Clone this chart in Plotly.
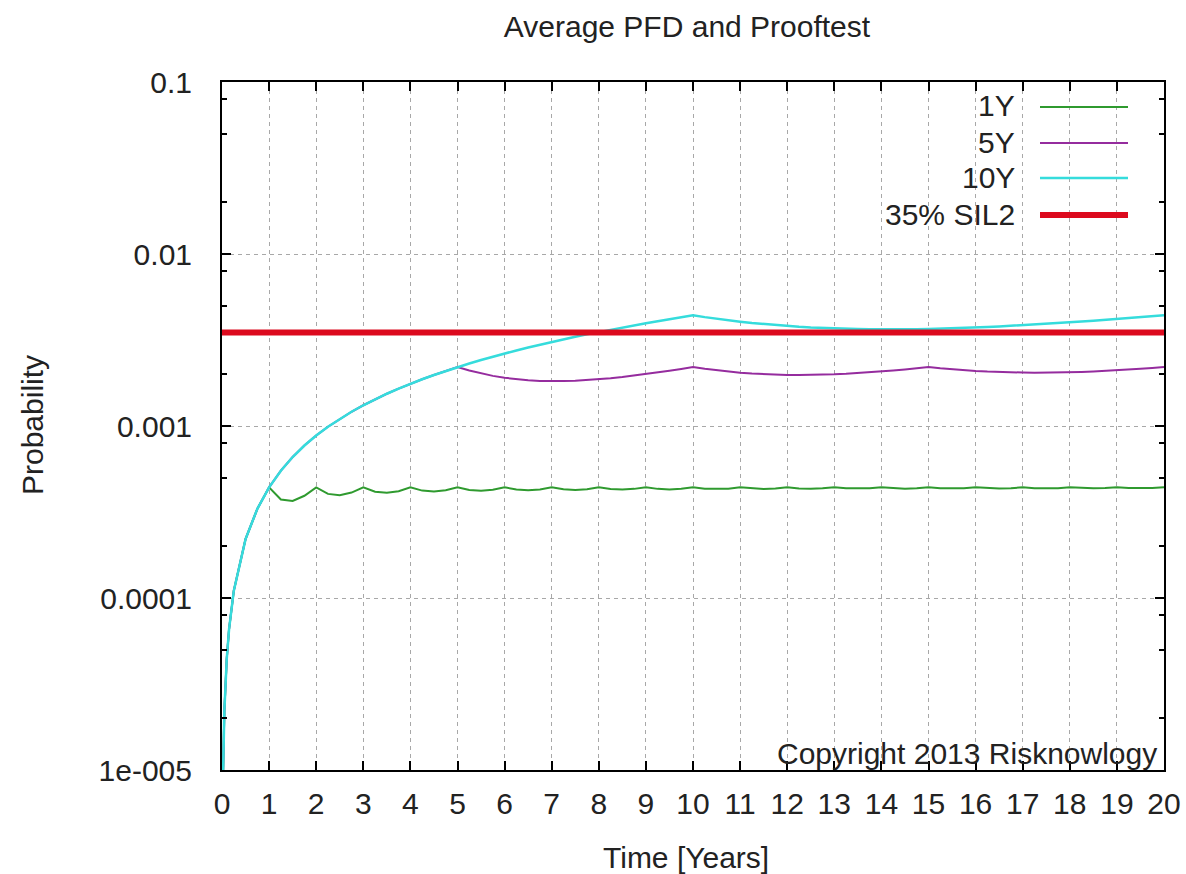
import plotly.graph_objects as go

# Time points [years]
time_years = [0.02, 0.05, 0.1, 0.15, 0.25, 0.5, 0.75, 1.0,
              1.25, 1.5, 1.75, 2.0, 2.25, 2.5, 2.75, 3.0, 3.25, 3.5, 3.75, 4.0,
              4.25, 4.5, 4.75, 5.0, 5.25, 5.5, 5.75, 6.0, 6.25, 6.5, 6.75, 7.0,
              7.25, 7.5, 7.75, 8.0, 8.25, 8.5, 8.75, 9.0, 9.25, 9.5, 9.75, 10.0,
              10.25, 10.5, 10.75, 11.0, 11.25, 11.5, 11.75, 12.0, 12.25, 12.5, 12.75, 13.0,
              13.25, 13.5, 13.75, 14.0, 14.25, 14.5, 14.75, 15.0, 15.25, 15.5, 15.75, 16.0,
              16.25, 16.5, 16.75, 17.0, 17.25, 17.5, 17.75, 18.0, 18.25, 18.5, 18.75, 19.0,
              19.25, 19.5, 19.75, 20.0]

pfd_1y = [8.8e-6, 2.2e-5, 4.4e-5, 6.6e-5, 1.1e-4, 2.2e-4, 3.3e-4, 4.40e-4,
          3.74e-4, 3.67e-4, 3.93e-4, 4.40e-4, 4.03e-4, 3.96e-4, 4.10e-4, 4.40e-4,
          4.15e-4, 4.09e-4, 4.18e-4, 4.40e-4, 4.21e-4, 4.16e-4, 4.23e-4, 4.40e-4,
          4.24e-4, 4.20e-4, 4.26e-4, 4.40e-4, 4.27e-4, 4.23e-4, 4.28e-4, 4.40e-4,
          4.29e-4, 4.25e-4, 4.29e-4, 4.40e-4, 4.30e-4, 4.27e-4, 4.31e-4, 4.40e-4,
          4.31e-4, 4.28e-4, 4.32e-4, 4.40e-4, 4.32e-4, 4.30e-4, 4.32e-4, 4.40e-4,
          4.33e-4, 4.30e-4, 4.33e-4, 4.40e-4, 4.33e-4, 4.31e-4, 4.34e-4, 4.40e-4,
          4.34e-4, 4.32e-4, 4.34e-4, 4.40e-4, 4.34e-4, 4.32e-4, 4.34e-4, 4.40e-4,
          4.35e-4, 4.33e-4, 4.35e-4, 4.40e-4, 4.35e-4, 4.33e-4, 4.35e-4, 4.40e-4,
          4.35e-4, 4.34e-4, 4.35e-4, 4.40e-4, 4.35e-4, 4.34e-4, 4.36e-4, 4.40e-4,
          4.36e-4, 4.34e-4, 4.36e-4, 4.40e-4]

pfd_5y = [8.8e-6, 2.2e-5, 4.4e-5, 6.6e-5, 1.1e-4, 2.2e-4, 3.3e-4, 4.40e-4,
          5.5e-4, 6.6e-4, 7.7e-4, 8.8e-4, 9.9e-4, 1.10e-3, 1.21e-3, 1.32e-3,
          1.43e-3, 1.54e-3, 1.65e-3, 1.76e-3, 1.87e-3, 1.98e-3, 2.09e-3, 2.20e-3,
          2.100e-3, 2.020e-3, 1.956e-3, 1.907e-3, 1.870e-3, 1.845e-3, 1.829e-3, 1.823e-3,
          1.825e-3, 1.833e-3, 1.849e-3, 1.870e-3, 1.897e-3, 1.928e-3, 1.964e-3, 2.004e-3,
          2.048e-3, 2.096e-3, 2.146e-3, 2.200e-3, 2.149e-3, 2.106e-3, 2.070e-3, 2.040e-3,
          2.017e-3, 1.999e-3, 1.987e-3, 1.980e-3, 1.978e-3, 1.980e-3, 1.986e-3, 1.997e-3,
          2.011e-3, 2.029e-3, 2.050e-3, 2.074e-3, 2.102e-3, 2.132e-3, 2.165e-3, 2.200e-3,
          2.166e-3, 2.136e-3, 2.111e-3, 2.090e-3, 2.073e-3, 2.060e-3, 2.051e-3, 2.045e-3,
          2.042e-3, 2.043e-3, 2.047e-3, 2.053e-3, 2.063e-3, 2.075e-3, 2.090e-3, 2.107e-3,
          2.127e-3, 2.149e-3, 2.174e-3, 2.200e-3]

pfd_10y = [8.8e-6, 2.2e-5, 4.4e-5, 6.6e-5, 1.1e-4, 2.2e-4, 3.3e-4, 4.40e-4,
           5.5e-4, 6.6e-4, 7.7e-4, 8.8e-4, 9.9e-4, 1.10e-3, 1.21e-3, 1.32e-3,
           1.43e-3, 1.54e-3, 1.65e-3, 1.76e-3, 1.87e-3, 1.98e-3, 2.09e-3, 2.20e-3,
           2.31e-3, 2.42e-3, 2.53e-3, 2.64e-3, 2.75e-3, 2.86e-3, 2.97e-3, 3.08e-3,
           3.19e-3, 3.30e-3, 3.41e-3, 3.52e-3, 3.63e-3, 3.74e-3, 3.85e-3, 3.96e-3,
           4.07e-3, 4.18e-3, 4.29e-3, 4.40e-3, 4.295e-3, 4.201e-3, 4.116e-3, 4.040e-3,
           3.972e-3, 3.912e-3, 3.859e-3, 3.813e-3, 3.774e-3, 3.740e-3, 3.712e-3, 3.689e-3,
           3.671e-3, 3.659e-3, 3.650e-3, 3.646e-3, 3.645e-3, 3.649e-3, 3.656e-3, 3.667e-3,
           3.681e-3, 3.697e-3, 3.717e-3, 3.740e-3, 3.765e-3, 3.793e-3, 3.824e-3, 3.856e-3,
           3.891e-3, 3.929e-3, 3.968e-3, 4.009e-3, 4.052e-3, 4.097e-3, 4.143e-3, 4.192e-3,
           4.241e-3, 4.293e-3, 4.346e-3, 4.400e-3]

sil2_x = [0, 20]
sil2_y = [3.5e-3, 3.5e-3]

series_names = ["1Y", "5Y", "10Y", "35% SIL2"]
series_colors = ["#2f9a2f", "#952c9e", "#35dcdc", "#dc0a1e"]
series_widths = [2, 2, 2.5, 6]

x_ticks = list(range(0, 21))
y_tick_vals = [1e-5, 1e-4, 1e-3, 1e-2, 1e-1]
y_tick_text = ["1e-005", "0.0001", "0.001", "0.01", "0.1"]
y_minor_vals = [m * d for d in [1e-5, 1e-4, 1e-3, 1e-2] for m in (2, 5, 8)]

FONT = "Liberation Sans, Arial, sans-serif"
TXT = "#222222"
FS = 30

fig = go.Figure()
fig.add_trace(go.Scatter(x=time_years, y=pfd_1y, mode="lines", name=series_names[0],
                         line=dict(color=series_colors[0], width=series_widths[0])))
fig.add_trace(go.Scatter(x=time_years, y=pfd_5y, mode="lines", name=series_names[1],
                         line=dict(color=series_colors[1], width=series_widths[1])))
fig.add_trace(go.Scatter(x=time_years, y=pfd_10y, mode="lines", name=series_names[2],
                         line=dict(color=series_colors[2], width=series_widths[2])))
fig.add_trace(go.Scatter(x=sil2_x, y=sil2_y, mode="lines", name=series_names[3],
                         line=dict(color=series_colors[3], width=series_widths[3])))

# plot area geometry in page pixels (body margin removed, figure fills window)
L, R, T, B = 222, 1164, 82, 770
W, H = 1186, 874

def px(xp):
    return (xp - L) / (R - L)

def py(yp):
    return (B - yp) / (B - T)

shapes = []
annotations = []
# legend background box (key drawn over the grid)
shapes.append(dict(type="rect", xref="paper", yref="paper",
                   x0=px(866), x1=px(1142), y0=py(232), y1=py(84),
                   fillcolor="white", line=dict(width=0), layer="between"))
legend_rows = [107, 143, 178, 215]
for name, col, w, yr in zip(series_names, series_colors, series_widths, legend_rows):
    annotations.append(dict(xref="paper", yref="paper", x=px(1017), y=py(yr - 1),
                            xanchor="right", yanchor="middle", text=name, showarrow=False,
                            font=dict(family=FONT, size=FS, color=TXT)))
    shapes.append(dict(type="line", xref="paper", yref="paper",
                       x0=px(1040), x1=px(1128), y0=py(yr), y1=py(yr),
                       line=dict(color=col, width=w), layer="above"))

annotations.append(dict(xref="paper", yref="paper", x=px(1159), y=py(753),
                        xanchor="right", yanchor="middle", text="Copyright 2013 Risknowlogy",
                        showarrow=False, font=dict(family=FONT, size=FS, color=TXT)))
# axis titles
annotations.append(dict(xref="paper", yref="paper", x=px(686), y=py(857),
                        xanchor="center", yanchor="middle", text="Time [Years]",
                        showarrow=False, font=dict(family=FONT, size=FS, color=TXT)))
annotations.append(dict(xref="paper", yref="paper", x=px(32), y=py(425),
                        xanchor="center", yanchor="middle", text="Probability", textangle=-90,
                        showarrow=False, font=dict(family=FONT, size=FS, color=TXT)))

fig.update_layout(
    width=W, height=H,
    margin=dict(l=L, r=W - R, t=T, b=H - B, autoexpand=False),
    paper_bgcolor="white", plot_bgcolor="white",
    showlegend=False,
    title=dict(text="Average PFD and Prooftest", x=687 / W, xanchor="center",
               y=1 - 26 / H, yanchor="middle",
               font=dict(family=FONT, size=FS, color=TXT)),
    font=dict(family=FONT, size=FS, color=TXT),
    shapes=shapes, annotations=annotations,
)

fig.update_xaxes(
    range=[0, 20], tickmode="array", tickvals=x_ticks,
    ticks="inside", ticklen=9, tickwidth=2, tickcolor="black",
    showline=True, linecolor="black", linewidth=2, mirror="allticks",
    showgrid=True, gridcolor="#a8a8a8", gridwidth=1, griddash="4px,4px",
    zeroline=False, ticklabelstandoff=6,
    tickfont=dict(family=FONT, size=FS, color=TXT),
)
fig.update_yaxes(
    type="log", range=[-5, -1], tickmode="array", tickvals=y_tick_vals, ticktext=y_tick_text,
    ticks="inside", ticklen=9, tickwidth=2, tickcolor="black",
    showline=True, linecolor="black", linewidth=2, mirror="allticks",
    showgrid=True, gridcolor="#a8a8a8", gridwidth=1, griddash="4px,4px",
    zeroline=False, ticklabelstandoff=22,
    minor=dict(tickmode="array", tickvals=y_minor_vals, ticks="inside", ticklen=5,
               tickwidth=2, tickcolor="black", showgrid=False),
    tickfont=dict(family=FONT, size=FS, color=TXT),
)

fig.write_html(
    "out.html",
    config={"displayModeBar": False},
    post_script="document.body.style.margin='0';document.body.style.overflow='hidden';",
)
